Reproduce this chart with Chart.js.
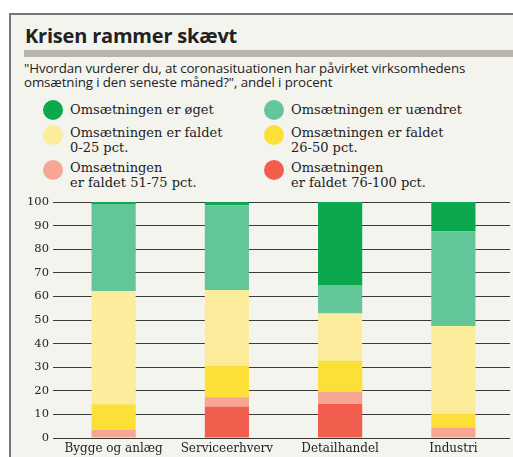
<!DOCTYPE html>
<html>
<head>
<meta charset="utf-8">
<script src="https://cdn.jsdelivr.net/npm/chart.js@4/dist/chart.umd.min.js"></script>
<style>
  html, body { margin:0; padding:0; background:#fff; }
  #frame { position:absolute; left:9px; top:13px; width:520px; height:460px;
           border-top:2px solid #777; border-left:2px solid #777; background:#f4f4ef; }
  #title { position:absolute; left:25px; top:22px; font:bold 20px "Open Sans", sans-serif; color:#222; letter-spacing:-0.2px; }
  #bar { position:absolute; left:24px; top:50px; width:489px; height:7px; background:#bab5aa; }
  #sub { position:absolute; left:24px; top:62px; font:13.3px "Open Sans", sans-serif; color:#222; line-height:13.5px; letter-spacing:-0.1px; }
  .lg { position:absolute; font:13px "DejaVu Serif", serif; color:#222; line-height:15px; }
  .dot { position:absolute; width:20px; height:20px; border-radius:50%; }
  #wrap { position:absolute; left:0; top:190px; width:513px; height:267px; }
</style>
</head>
<body>
<div id="frame"></div>
<div id="title">Krisen rammer skævt</div>
<div id="bar"></div>
<div id="sub">"Hvordan vurderer du, at coronasituationen har påvirket virksomhedens<br>omsætning i den seneste måned?", andel i procent</div>
<div id="legend"></div>
<div id="wrap"><canvas id="chart"></canvas></div>
<script>
var categories = ["Bygge og anlæg", "Serviceerhverv", "Detailhandel", "Industri"];
var faldet76_100 = [0, 13.4, 14.4, 0];
var faldet51_75 = [3.5, 3.9, 5.3, 4.5];
var faldet26_50 = [10.8, 13.3, 13.0, 5.8];
var faldet0_25 = [48.0, 32.1, 20.1, 37.2];
var uaendret = [36.9, 35.9, 12.0, 40.1];
var oeget = [0.8, 1.4, 35.2, 12.4];
var yTicks = [0, 10, 20, 30, 40, 50, 60, 70, 80, 90, 100];

var series = [
  { label: "Omsætningen\ner faldet 76-100 pct.", data: faldet76_100, color: "#f15e4e" },
  { label: "Omsætningen\ner faldet 51-75 pct.", data: faldet51_75, color: "#f7a594" },
  { label: "Omsætningen er faldet\n26-50 pct.", data: faldet26_50, color: "#fde037" },
  { label: "Omsætningen er faldet\n0-25 pct.", data: faldet0_25, color: "#fcec9c" },
  { label: "Omsætningen er uændret", data: uaendret, color: "#62c698" },
  { label: "Omsætningen  er øget", data: oeget, color: "#0ba84d" }
];

// legend in two columns, like the print graphic
var legendSpots = [
  [5, 0, 0], [4, 1, 0],
  [3, 0, 1], [2, 1, 1],
  [1, 0, 2], [0, 1, 2]
];
var rowDot = [100, 125, 160];
var rowText = [102, 125, 160];
var leg = document.getElementById('legend');
legendSpots.forEach(function(s){
  var d = series[s[0]];
  var x = s[1] ? 264 : 43;
  var dot = document.createElement('div');
  dot.className = 'dot';
  dot.style.left = x + 'px';
  dot.style.top = rowDot[s[2]] + 'px';
  dot.style.background = d.color;
  leg.appendChild(dot);
  var t = document.createElement('div');
  t.className = 'lg';
  t.style.left = (x + 27) + 'px';
  t.style.top = rowText[s[2]] + 'px';
  t.innerHTML = d.label.replace('\n', '<br>');
  leg.appendChild(t);
});

new Chart(document.getElementById('chart'), {
  type: 'bar',
  data: {
    labels: categories,
    datasets: series.map(function(s){
      return { label: s.label, data: s.data, backgroundColor: s.color,
               barPercentage: 0.39, categoryPercentage: 1.0, borderWidth: 0 };
    })
  },
  options: {
    responsive: true,
    maintainAspectRatio: false,
    animation: false,
    layout: { padding: { top: 12, right: 3, left: 0, bottom: 0 } },
    plugins: { legend: { display: false }, tooltip: { enabled: false } },
    scales: {
      x: {
        stacked: true,
        grid: { display: false, drawTicks: false },
        border: { display: false },
        ticks: { color: '#222', font: { family: 'DejaVu Serif', size: 12 }, padding: 4 },
        afterFit: function(a){ a.height = 19; }
      },
      y: {
        stacked: true,
        min: 0, max: 100,
        afterBuildTicks: function(a){ a.ticks = yTicks.map(function(v){ return { value: v }; }); },
        grid: { color: '#3a3a3a', lineWidth: 1, tickLength: 4, drawTicks: true },
        border: { display: false },
        ticks: { color: '#222', font: { family: 'DejaVu Serif', size: 11.5 }, padding: 4 },
        afterFit: function(a){ a.width = 57; }
      }
    }
  }
});
</script>
</body>
</html>
